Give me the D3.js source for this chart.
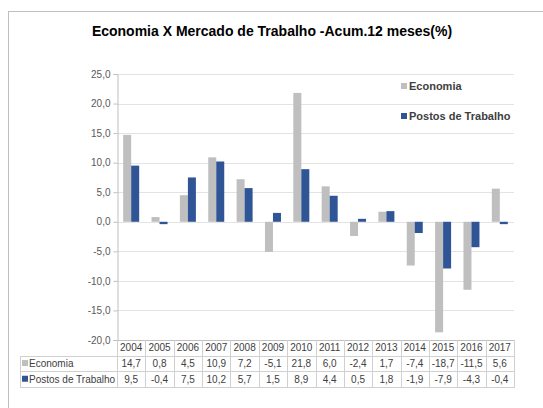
<!DOCTYPE html>
<html>
<head>
<meta charset="utf-8">
<script src="https://cdn.jsdelivr.net/npm/d3@7"></script>
<style>
  body { margin: 0; background: #fff; }
  svg { display: block; font-family: "Liberation Sans", Arial, sans-serif; }
</style>
</head>
<body>
<svg id="chart" width="543" height="408"></svg>
<script>
var years = ['2004', '2005', '2006', '2007', '2008', '2009', '2010', '2011', '2012', '2013', '2014', '2015', '2016', '2017'],
    economia = [14.7, 0.8, 4.5, 10.9, 7.2, -5.1, 21.8, 6.0, -2.4, 1.7, -7.4, -18.7, -11.5, 5.6],
    postos = [9.5, -0.4, 7.5, 10.2, 5.7, 1.5, 8.9, 4.4, 0.5, 1.8, -1.9, -7.9, -4.3, -0.4],
    seriesNames = ['Economia', 'Postos de Trabalho'],
    yTicks = [-20, -15, -10, -5, 0, 5, 10, 15, 20, 25];

var colors = ['#bfbfbf', '#2f5597'],
    series = [economia, postos],
    fmt = function (v){ return d3.format('.1f')(v).replace('.', ',').replace('\u2212', '-'); };

var svg = d3.select('#chart');

var plotLeft = 117, plotRight = 514, plotTop = 74, plotBottom = 340,
    tableLeft = 20, rowH = 15.7;

// outer chart frame (cropped on the right and bottom)
svg.append('rect')
    .attr('x', 8.5).attr('y', 11.5)
    .attr('width', 600).attr('height', 500)
    .attr('fill', 'none')
    .attr('stroke', '#bfbfbf');

svg.append('text')
    .attr('x', 272).attr('y', 36)
    .attr('text-anchor', 'middle')
    .attr('font-size', 14)
    .attr('font-weight', 'bold')
    .attr('fill', '#000')
    .text('Economia X Mercado de Trabalho -Acum.12 meses(%)');

var x = d3.scaleBand().domain(years).range([plotLeft, plotRight]),
    x1 = d3.scaleBand().domain([0, 1]).range([0, 16]),
    y = d3.scaleLinear().domain([-20, 25]).range([plotBottom, plotTop]);

// gridlines
svg.append('g')
    .selectAll('line')
    .data(yTicks.filter(function (t){ return t > -20; }))
    .enter().append('line')
    .attr('x1', plotLeft).attr('x2', plotRight)
    .attr('y1', function (d){ return Math.round(y(d)) + 0.5; })
    .attr('y2', function (d){ return Math.round(y(d)) + 0.5; })
    .attr('stroke', '#e3e3e3');

// y axis
var yAxis = svg.append('g')
    .attr('transform', 'translate(' + (plotLeft + 0.5) + ',0)')
    .call(d3.axisLeft(y).tickValues(yTicks).tickSize(4).tickPadding(3).tickFormat(fmt));
yAxis.select('.domain').attr('stroke', '#bfbfbf');
yAxis.selectAll('.tick line').attr('stroke', '#bfbfbf');
yAxis.selectAll('.tick text')
    .attr('font-family', 'Liberation Sans, Arial, sans-serif')
    .attr('font-size', 10)
    .attr('fill', '#595959');

// bars
series.forEach(function (vals, s){
    svg.append('g')
        .selectAll('rect')
        .data(vals)
        .enter().append('rect')
        .attr('x', function (d, i){ return x(years[i]) + (x.bandwidth() - 16) / 2 + x1(s); })
        .attr('width', x1.bandwidth())
        .attr('y', function (d){ return y(Math.max(0, d)); })
        .attr('height', function (d){ return Math.abs(y(d) - y(0)); })
        .attr('fill', colors[s]);
});

// legend
var legend = svg.append('g').attr('transform', 'translate(401,80)');
seriesNames.forEach(function (name, s){
    var g = legend.append('g').attr('transform', 'translate(0,' + (s * 30) + ')');
    g.append('rect').attr('x', 0).attr('y', 3).attr('width', 6).attr('height', 6).attr('fill', colors[s]);
    g.append('text').attr('x', 8).attr('y', 10)
        .attr('font-size', 11).attr('font-weight', 'bold').attr('fill', '#404040')
        .text(name);
});

// data table
var table = svg.append('g').attr('stroke', '#d0d0d0').attr('fill', 'none');
table.append('line').attr('x1', plotLeft).attr('x2', plotRight).attr('y1', plotBottom + 0.5).attr('y2', plotBottom + 0.5).attr('stroke', '#bfbfbf');
[1, 2, 3].forEach(function (r){
    var yy = Math.round(plotBottom + r * rowH) + 0.5;
    table.append('line').attr('x1', tableLeft).attr('x2', plotRight).attr('y1', yy).attr('y2', yy);
});
table.append('line')
    .attr('x1', tableLeft + 0.5).attr('x2', tableLeft + 0.5)
    .attr('y1', Math.round(plotBottom + rowH)).attr('y2', Math.round(plotBottom + 3 * rowH) + 1);
years.concat(['end']).forEach(function (yr, i){
    var xx = Math.round(plotLeft + i * x.bandwidth()) + 0.5;
    table.append('line').attr('x1', xx).attr('x2', xx)
        .attr('y1', plotBottom).attr('y2', Math.round(plotBottom + 3 * rowH) + 1);
});

var cells = svg.append('g')
    .attr('font-size', 10)
    .attr('fill', '#404040')
    .attr('text-anchor', 'middle');

cells.selectAll('text.year')
    .data(years).enter().append('text')
    .attr('class', 'year')
    .attr('x', function (d){ return x(d) + x.bandwidth() / 2; })
    .attr('y', plotBottom + rowH / 2 + 3.5)
    .text(function (d){ return d; });

series.forEach(function (vals, s){
    var rowY = plotBottom + (s + 1) * rowH + rowH / 2 + 3.5;
    cells.selectAll('text.v' + s)
        .data(vals).enter().append('text')
        .attr('class', 'v' + s)
        .attr('x', function (d, i){ return x(years[i]) + x.bandwidth() / 2; })
        .attr('y', rowY)
        .text(fmt);
    svg.append('rect')
        .attr('x', tableLeft + 2).attr('y', rowY - 7)
        .attr('width', 6).attr('height', 6)
        .attr('fill', colors[s]);
    svg.append('text')
        .attr('x', tableLeft + 9).attr('y', rowY)
        .attr('font-size', 10).attr('fill', '#404040')
        .text(seriesNames[s]);
});
</script>
</body>
</html>
